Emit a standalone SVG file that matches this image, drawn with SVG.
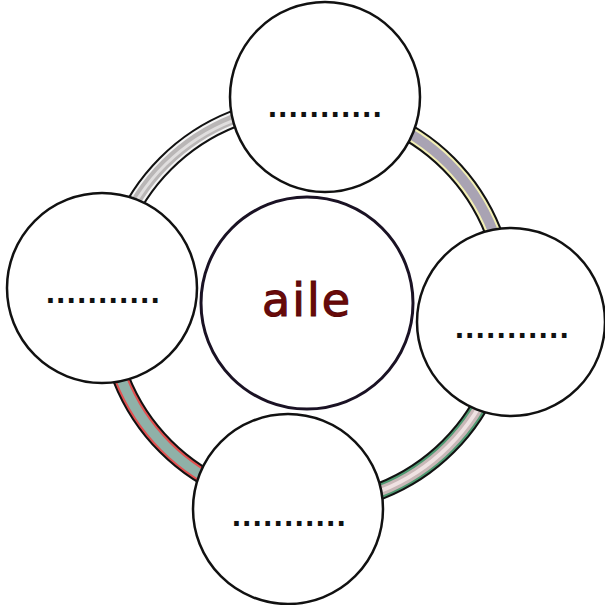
<svg xmlns="http://www.w3.org/2000/svg" width="605" height="605" viewBox="0 0 605 605">
<style>
.bg{fill:#fff}
.node{fill:#fff;stroke:#111;stroke-width:2.5}
.center{fill:#fff;stroke:#1a1224;stroke-width:3}
.dots{font-family:"DejaVu Sans",sans-serif;font-weight:bold;font-size:26px;letter-spacing:0.6px;fill:#111;text-anchor:middle}
.word{font-family:"DejaVu Sans",sans-serif;font-size:46px;fill:#6a0a0a;stroke:#5a0808;stroke-width:1.1px;text-anchor:middle;letter-spacing:2px}
.seg{fill:none;stroke-linecap:butt}
.o{stroke:#111;stroke-width:18}
</style>
<rect class="bg" width="605" height="605"/>
<g id="connectors">
  <g id="ring-tl">
    <path class="seg o" d="M107,305 A200,200 0 0 1 307,105"/>
    <path class="seg" stroke="#f4f4f4" stroke-width="14" d="M107,305 A200,200 0 0 1 307,105"/>
    <path class="seg" stroke="#b9b6b6" stroke-width="10" d="M107,305 A200,200 0 0 1 307,105"/>
    <path class="seg" stroke="#e0dede" stroke-width="3" d="M107,305 A198,198 0 0 1 307,107"/>
  </g>
  <g id="ring-tr">
    <path class="seg o" d="M307,105 A200,200 0 0 1 507,305"/>
    <path class="seg" stroke="#f2efb4" stroke-width="14" d="M307,105 A200,200 0 0 1 507,305"/>
    <path class="seg" stroke="#a9a3b3" stroke-width="10" d="M307,105 A200,200 0 0 1 507,305"/>
  </g>
  <g id="ring-br">
    <path class="seg o" d="M507,305 A200,200 0 0 1 307,505"/>
    <path class="seg" stroke="#4f9a72" stroke-width="14" d="M507,305 A200,200 0 0 1 307,505"/>
    <path class="seg" stroke="#c9b7b7" stroke-width="10" d="M507,305 A200,200 0 0 1 307,505"/>
    <path class="seg" stroke="#efe2e2" stroke-width="4" d="M507,305 A200,200 0 0 1 307,505"/>
  </g>
  <g id="ring-bl">
    <path class="seg o" d="M307,505 A200,200 0 0 1 107,305"/>
    <path class="seg" stroke="#e35050" stroke-width="14" d="M307,505 A200,200 0 0 1 107,305"/>
    <path class="seg" stroke="#8fb1a8" stroke-width="10" d="M307,505 A200,200 0 0 1 107,305"/>
  </g>
</g>
<g id="node-top">
  <circle class="node" cx="325" cy="97" r="95"/>
  <text class="dots" x="325" y="117">...........</text>
</g>
<g id="node-left">
  <circle class="node" cx="102" cy="288" r="95"/>
  <text class="dots" x="103" y="303">...........</text>
</g>
<g id="node-right">
  <circle class="node" cx="511" cy="322" r="94"/>
  <text class="dots" x="512" y="338">...........</text>
</g>
<g id="node-bottom">
  <circle class="node" cx="288" cy="509" r="95"/>
  <text class="dots" x="289" y="526">...........</text>
</g>
<g id="node-center">
  <circle class="center" cx="307" cy="303" r="106"/>
  <text class="word" x="307" y="316">aile</text>
</g>
</svg>
